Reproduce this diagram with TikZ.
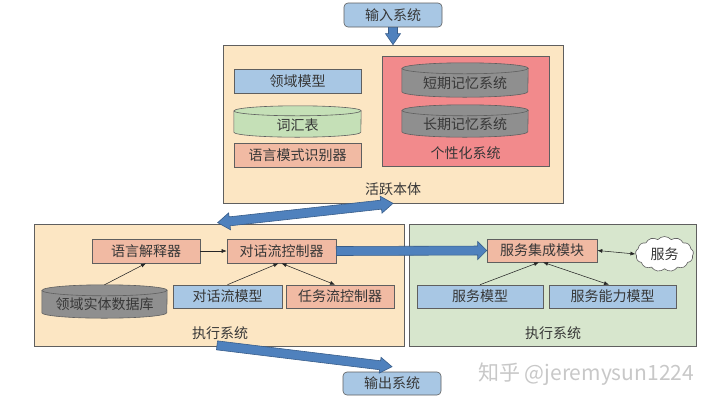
\documentclass[tikz,border=0pt]{standalone}
\usepackage{fontspec}
\newfontfamily\cjk{Noto Sans CJK SC}
\usetikzlibrary{calc,shapes.symbols,arrows.meta}
\definecolor{edgec}{RGB}{95,95,95}
\definecolor{txt}{RGB}{55,55,55}
\definecolor{bluef}{RGB}{168,199,228}
\definecolor{salmonf}{RGB}{241,186,163}
\definecolor{wheatf}{RGB}{252,230,195}
\definecolor{greenp}{RGB}{215,230,205}
\definecolor{greenc}{RGB}{197,224,183}
\definecolor{redf}{RGB}{242,138,140}
\definecolor{grayf}{RGB}{143,143,143}
\definecolor{arrowf}{RGB}{79,129,189}
\definecolor{arrowd}{RGB}{56,93,138}
\definecolor{wmc}{RGB}{200,200,200}
\newcommand\fatarrow[5]{%
  \coordinate (fa-h) at ($(#2)!#5!(#1)$);
  \filldraw[fatstyle] ($(#1)!#3!90:(#2)$) -- ($(fa-h)!#3!90:(#2)$) -- ($(fa-h)!#4!90:(#2)$) -- (#2)
    -- ($(fa-h)!#4!-90:(#2)$) -- ($(fa-h)!#3!-90:(#2)$) -- ($(#1)!#3!-90:(#2)$) -- cycle;}
\newcommand\fatdarrow[5]{%
  \coordinate (fb-h1) at ($(#1)!#5!(#2)$);
  \coordinate (fb-h2) at ($(#2)!#5!(#1)$);
  \filldraw[fatstyle] (#1) -- ($(fb-h1)!#4!90:(#2)$) -- ($(fb-h1)!#3!90:(#2)$) -- ($(fb-h2)!#3!90:(#2)$)
    -- ($(fb-h2)!#4!90:(#2)$) -- (#2) -- ($(fb-h2)!#4!-90:(#2)$) -- ($(fb-h2)!#3!-90:(#2)$)
    -- ($(fb-h1)!#3!-90:(#2)$) -- ($(fb-h1)!#4!-90:(#2)$) -- cycle;}
\newcommand\cylbody[4]{%
  \filldraw[fill=#2, draw=edgec, line width=0.6pt] ($(#1.north west)+(0,-#4)$) -- ($(#1.south west)+(0,#4)$)
    arc[start angle=180, end angle=360, x radius=#3, y radius=#4] -- ($(#1.north east)+(0,-#4)$)
    arc[start angle=0, end angle=180, x radius=#3, y radius=#4] -- cycle;
  \draw[edgec, line width=0.6pt] ($(#1.north west)+(0,-#4)$) arc[start angle=180, end angle=360, x radius=#3, y radius=#4];}
\begin{document}
\begin{tikzpicture}[x=1pt,y=1pt,
  box/.style={draw=edgec, line width=0.6pt, inner sep=0pt, font=\cjk\fontsize{14}{16}\selectfont, text=txt},
  panel/.style={draw=edgec, line width=0.7pt, inner sep=0pt},
  label/.style={inner sep=0pt, font=\cjk\fontsize{14}{16}\selectfont, text=txt},
  ghost/.style={inner sep=0pt},
  fatstyle/.style={fill=arrowf, draw=arrowd, line width=0.6pt, line join=miter},
  conn/.style={-{Latex[length=5pt,width=4pt]}, line width=0.55pt, draw=black!85},
  dconn/.style={{Latex[length=5pt,width=4pt]}-{Latex[length=5pt,width=4pt]}, line width=0.55pt, draw=black!85}]
\useasboundingbox (0,0) rectangle (714,-405);
\fill[white] (0,0) rectangle (714,-405);

% input / output
\node[box, fill=bluef, rounded corners=4pt, minimum width=98pt, minimum height=24pt] (in) at (393,-15) {输入系统};
\node[box, fill=bluef, rounded corners=4pt, minimum width=98pt, minimum height=23pt] (out) at (392,-383.5) {输出系统};

% ontology panel
\node[panel, fill=wheatf, minimum width=340pt, minimum height=158pt] (onto) at (393,-124) {};
\node[label] (onto-t) at (393,-189) {活跃本体};
\node[box, fill=bluef, minimum width=127pt, minimum height=24pt] (lymx) at (297.5,-81) {领域模型};
\node[ghost, minimum width=127pt, minimum height=31pt] (chb) at (297.5,-121.5) {};
\cylbody{chb}{greenc}{63.5pt}{5pt}
\node[label] (chb-t) at ($(chb.center)+(0,-4)$) {词汇表};
\node[box, fill=salmonf, minimum width=127pt, minimum height=24pt] (yysb) at (297.5,-155) {语言模式识别器};
\node[panel, fill=redf, minimum width=167pt, minimum height=110pt] (gxh) at (465.5,-111) {};
\node[label] (gxh-t) at (465.5,-153) {个性化系统};
\node[ghost, minimum width=126pt, minimum height=34pt] (dq) at (465,-80) {};
\cylbody{dq}{grayf}{63pt}{5.5pt}
\node[label] (dq-t) at ($(dq.center)+(0,-3)$) {短期记忆系统};
\node[ghost, minimum width=126pt, minimum height=32pt] (cq) at (465,-121) {};
\cylbody{cq}{grayf}{63pt}{5.5pt}
\node[label] (cq-t) at ($(cq.center)+(0,-3)$) {长期记忆系统};

% execution panels
\node[panel, fill=wheatf, minimum width=370pt, minimum height=122pt] (exec1) at (219,-285) {};
\node[label] (e1-t) at (220,-333) {执行系统};
\node[panel, fill=greenp, minimum width=287pt, minimum height=122pt] (exec2) at (552.5,-285) {};
\node[label] (e2-t) at (553,-333) {执行系统};

\node[box, fill=salmonf, minimum width=108pt, minimum height=24pt] (lij) at (146,-251) {语言解释器};
\node[box, fill=salmonf, minimum width=109pt, minimum height=24pt] (dfc) at (281.5,-251) {对话流控制器};
\node[ghost, minimum width=125pt, minimum height=33pt] (db) at (104.5,-301.5) {};
\cylbody{db}{grayf}{62.5pt}{5.5pt}
\node[label] (db-t) at ($(db.center)+(0,-3)$) {领域实体数据库};
\node[box, fill=bluef, minimum width=109pt, minimum height=23pt] (dfm) at (227.5,-296.5) {对话流模型};
\node[box, fill=salmonf, minimum width=108pt, minimum height=23pt] (tfc) at (340,-296.5) {任务流控制器};

\node[box, fill=salmonf, minimum width=110pt, minimum height=23pt] (sim) at (542,-250.5) {服务集成模块};
\node[box, fill=white, cloud, cloud puffs=13, cloud puff arc=100, aspect=1.6, minimum width=58pt, minimum height=35pt] (svc) at (664.5,-254) {服务};
\node[box, fill=bluef, minimum width=126pt, minimum height=23pt] (sm) at (480,-296.5) {服务模型};
\node[box, fill=bluef, minimum width=127pt, minimum height=23pt] (scm) at (612.5,-296.5) {服务能力模型};

% thin connectors
\draw[conn] (lij.east) -- (dfc.west);
\draw[conn] (db.north) -- (lij.south);
\draw[conn] (dfm.north) -- ($(dfc.south)+(-3,0)$);
\draw[dconn] (dfc.south) -- ($(tfc.north)+(-5,0)$);
\draw[conn] (sm.north) -- ($(sim.south)+(-3,0)$);
\draw[dconn] ($(sim.south)+(1,0)$) -- ($(scm.north)+(-3.5,0)$);
\draw[dconn] (sim.east) -- (svc.west);

% fat arrows
\coordinate (a1s) at (in.south);
\coordinate (a1e) at (onto.north);
\fatarrow{a1s}{a1e}{4.5pt}{7.5pt}{11pt}
\coordinate (a2s) at ($(exec1.north west)+(184,1)$);
\coordinate (a2e) at (onto.south);
\fatdarrow{a2s}{a2e}{4.5pt}{8.5pt}{12pt}
\coordinate (a3s) at (dfc.east);
\coordinate (a3e) at (sim.west);
\fatarrow{a3s}{a3e}{4.5pt}{9pt}{9pt}
\coordinate (a4s) at ($(exec1.south)+(-2,1)$);
\coordinate (a4e) at ($(out.north)+(0,5)$);
\fatarrow{a4s}{a4e}{4.5pt}{8pt}{12pt}

% watermark
\node[inner sep=0pt, font=\cjk\fontsize{21}{24}\selectfont, text=wmc] (wm) at (586,-374) {知乎 @jeremysun1224};
\end{tikzpicture}
\end{document}
